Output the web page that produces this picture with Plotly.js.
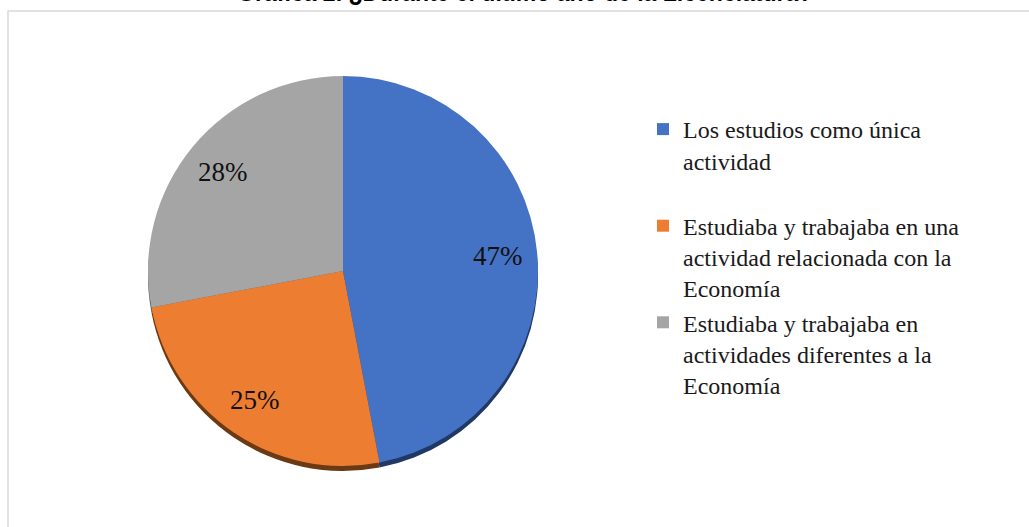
<!DOCTYPE html>
<html>
<head>
<meta charset="utf-8">
<script src="https://cdn.plot.ly/plotly-3.0.1.min.js"></script>
<style>
html,body{margin:0;padding:0;background:#fff;}
#chart{width:1029px;height:527px;}
</style>
</head>
<body>
<div id="chart"></div>
<script>
const categories = [
  "Los estudios como única<br>actividad<br>\u00a0",
  "Estudiaba y trabajaba en una<br>actividad relacionada con la<br>Economía",
  "Estudiaba y trabajaba en<br>actividades diferentes a la<br>Economía"
];
const values = [47, 25, 28];
const colors = ["#4472C4", "#ED7D31", "#A5A5A5"];
const shadowColors = ["#1F3864", "#6B3A12", "#595959"];
const titleText = "Gráfica 2. ¿Durante el último año de la Licenciatura?";

const W = 1029, H = 527;
// pie box in pixels (left, right, top, bottom)
const PL = 146, PR = 540, PT = 76, PB = 466;
const SH = 5; // shadow offset px

const dom = {x: [PL / W, PR / W], y: [1 - PB / H, 1 - PT / H]};
const shadowDom = {x: [PL / W, PR / W], y: [1 - (PB + SH) / H, 1 - (PT + SH) / H]};

const shadow = {
  type: "pie", labels: categories, values: values,
  marker: {colors: shadowColors, line: {width: 0}},
  sort: false, direction: "clockwise", rotation: 0,
  textinfo: "none", hoverinfo: "skip", showlegend: false,
  domain: shadowDom
};
const main = {
  type: "pie", labels: categories, values: values,
  marker: {colors: colors, line: {width: 0}},
  sort: false, direction: "clockwise", rotation: 0,
  textinfo: "none", hoverinfo: "label+percent",
  domain: dom
};

// percentage labels placed at each slice's mid-angle, computed from the values
const total = values.reduce((a, b) => a + b, 0);
const cx = (PL + PR) / 2, cy = (PT + PB) / 2, R = Math.min(PR - PL, PB - PT) / 2;
let cum = 0;
const annotations = values.map(v => {
  const mid = (cum + v / 2) / total * 2 * Math.PI;
  cum += v;
  const px = cx + 0.8 * R * Math.sin(mid);
  const py = cy - 0.8 * R * Math.cos(mid);
  return {
    xref: "paper", yref: "paper", x: px / W, y: 1 - py / H,
    text: Math.round(v / total * 100) + "%", showarrow: false,
    xanchor: "center", yanchor: "middle",
    font: {family: "Liberation Serif", size: 27, color: "#111"}
  };
});

const layout = {
  width: W, height: H,
  margin: {l: 0, r: 0, t: 0, b: 0},
  paper_bgcolor: "#fff",
  plot_bgcolor: "#fff",
  title: {
    text: "<b>" + titleText + "</b>",
    font: {family: "Liberation Sans", size: 23, color: "#000"},
    x: 0.51, xanchor: "center",
    xref: "container", yref: "container",
    y: 1 - 1 / H, yanchor: "bottom"
  },
  showlegend: true,
  legend: {
    x: 643 / W, xanchor: "left",
    y: 1 - 107 / H, yanchor: "top",
    valign: "top",
    font: {family: "Liberation Serif", size: 24, color: "#1a1a1a"},
    bgcolor: "rgba(0,0,0,0)",
    itemwidth: 30
  },
  annotations: annotations,
  shapes: [{
    type: "rect", xref: "paper", yref: "paper",
    x0: 8 / W, x1: 1.02, y0: -0.02, y1: 1 - 11 / H,
    line: {color: "#d9d9d9", width: 1.5},
    fillcolor: "rgba(0,0,0,0)", layer: "below"
  }]
};

Plotly.newPlot("chart", [shadow, main], layout, {displayModeBar: false, staticPlot: true});
</script>
</body>
</html>
